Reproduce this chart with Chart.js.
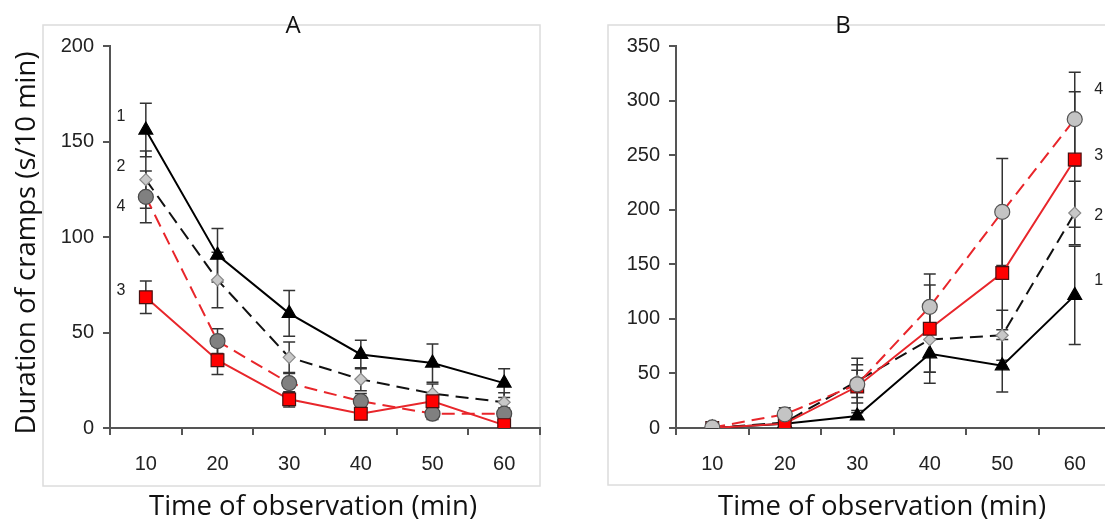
<!DOCTYPE html>
<html>
<head>
<meta charset="utf-8">
<title>Duration of cramps</title>
<script src="https://cdn.jsdelivr.net/npm/chart.js@4.4.1/dist/chart.umd.min.js"></script>
<style>
  html, body { margin: 0; padding: 0; background: #fff; overflow: hidden; }
  body { width: 1105px; height: 527px; position: relative; }
  .panel { position: absolute; top: 0; height: 527px; }
  #panelA { left: 0; width: 552px; }
  #panelB { left: 560px; width: 600px; }
</style>
</head>
<body>
<div class="panel" id="panelA"><canvas id="chartA"></canvas></div>
<div class="panel" id="panelB"><canvas id="chartB"></canvas></div>
<script>
// time of observation (min)
const categories = ["10", "20", "30", "40", "50", "60"];

// panel A: 1 = triangles, 2 = diamonds, 3 = squares, 4 = circles
const a1 = [156, 90.5, 60, 38.5, 34, 23.5];
const a1Err = [14, 14, 12, 7.5, 10, 7.5];
const a2 = [130, 77.5, 37, 25.5, 18, 13.5];
const a2Err = [15, 14.5, 8, 6, 5, 5];
const a3 = [68.5, 35.5, 15, 7.5, 14, 1.5];
const a3Err = [8.5, 7.5, 4, 3, 3, 2];
const a4 = [121, 45.5, 23.5, 14, 7.5, 7.5];
const a4Err = [13.5, 6.5, 5, 4, 3, 3];
const yTicksA = [0, 50, 100, 150, 200];

// panel B
const b1 = [0, 4, 11, 68, 57, 121.5];
const b1Err = [0, 2, 3, 27, 24, 45];
const b2 = [0, 5, 43, 81, 85, 197];
const b2Err = [0, 3, 15, 30, 23, 29];
const b3 = [0, 4, 38, 91, 142, 246];
const b3Err = [0, 3, 15, 40, 52, 62];
const b4 = [0.5, 12.5, 40, 111, 198, 283];
const b4Err = [1, 6, 24, 30, 49, 43];
const yTicksB = [0, 50, 100, 150, 200, 250, 300, 350];

// series number tags: [text, y value]
const tagsA = [["1", 163], ["2", 137], ["4", 116], ["3", 72]];
const tagsB = [["4", 310], ["3", 250], ["2", 195], ["1", 135]];

const TITLE_FONT = "'Open Sans', Lato, sans-serif";
const TICK_FONT = "'Liberation Sans', Arial, sans-serif";

const panelDecor = {
  id: "panelDecor",
  beforeDraw(chart, args, opts) {
    const ctx = chart.ctx;
    ctx.save();
    ctx.strokeStyle = "#dcdcdc";
    ctx.lineWidth = 1.5;
    ctx.strokeRect(opts.frame[0], opts.frame[1], opts.frame[2], opts.frame[3]);
    ctx.fillStyle = "#111";
    ctx.textAlign = "center";
    ctx.textBaseline = "middle";
    ctx.font = "24px " + TITLE_FONT;
    ctx.fillText(opts.title, opts.titleX, 26);
    ctx.font = "27.5px " + TITLE_FONT;
    ctx.fillText("Time of observation (min)", opts.xTitleX, 507);
    if (opts.yTitle) {
      ctx.translate(27, 243);
      ctx.rotate(-Math.PI / 2);
      ctx.fillText(opts.yTitle, 0, 0);
    }
    ctx.restore();
  },
  beforeDatasetsDraw(chart) {
    const ctx = chart.ctx;
    const y = chart.scales.y;
    ctx.save();
    ctx.strokeStyle = "#333";
    ctx.lineWidth = 1.5;
    chart.data.datasets.forEach((ds, i) => {
      const meta = chart.getDatasetMeta(i);
      ds.errors.forEach((e, j) => {
        if (!e) return;
        const px = meta.data[j].x;
        const top = y.getPixelForValue(ds.data[j] + e);
        const bot = y.getPixelForValue(Math.max(0, ds.data[j] - e));
        ctx.beginPath();
        ctx.moveTo(px, top); ctx.lineTo(px, bot);
        ctx.moveTo(px - 6, top); ctx.lineTo(px + 6, top);
        ctx.moveTo(px - 6, bot); ctx.lineTo(px + 6, bot);
        ctx.stroke();
      });
    });
    ctx.restore();
  },
  afterDatasetsDraw(chart, args, opts) {
    const ctx = chart.ctx;
    const x = chart.scales.x, y = chart.scales.y;
    ctx.save();
    ctx.fillStyle = "#222";
    ctx.font = "16px " + TICK_FONT;
    ctx.textAlign = "center";
    ctx.textBaseline = "middle";
    opts.tags.forEach(([t, v]) => {
      ctx.fillText(t, x.getPixelForValue(opts.tagIndex) + opts.tagDx, y.getPixelForValue(v));
    });
    ctx.restore();
  }
};

function series(label, data, errors, style) {
  return Object.assign({label: label, data: data, errors: errors, borderWidth: 2, pointBorderWidth: 1.2, tension: 0}, style);
}

function makeChart(canvasId, sets, yTicks, yMax, padding, decor) {
  return new Chart(document.getElementById(canvasId), {
    type: "line",
    data: {labels: categories, datasets: sets},
    options: {
      responsive: true,
      maintainAspectRatio: false,
      animation: false,
      layout: {padding: padding},
      plugins: {legend: {display: false}, tooltip: {enabled: false}, panelDecor: decor},
      scales: {
        x: {
          offset: true,
          grid: {offset: true, drawOnChartArea: false, tickLength: 7, color: "#555", lineWidth: 2},
          border: {color: "#555", width: 2},
          ticks: {color: "#222", padding: 17, font: {family: TICK_FONT, size: 20}},
          afterFit: (s) => { s.height = 60; }
        },
        y: {
          min: 0,
          max: yMax,
          grid: {drawOnChartArea: false, tickLength: 7, color: "#555", lineWidth: 2},
          border: {color: "#555", width: 2},
          ticks: {color: "#222", padding: 9, font: {family: TICK_FONT, size: 20}},
          afterBuildTicks: (s) => { s.ticks = yTicks.map(v => ({value: v})); },
          afterFit: (s) => { s.width = 60; }
        }
      }
    },
    plugins: [panelDecor]
  });
}

document.addEventListener("DOMContentLoaded", function () {
  const tri = {borderColor: "#000", pointStyle: "triangle", pointRadius: 8, pointBackgroundColor: "#000", pointBorderColor: "#000", order: 4};
  const dia = {borderColor: "#111", borderDash: [13, 7], pointStyle: "rectRot", pointRadius: 6, pointBackgroundColor: "#c8c8c8", pointBorderColor: "#8a8a8a", order: 3};
  const sq = {borderColor: "#e8262b", pointStyle: "rect", pointRadius: 9, pointBackgroundColor: "#ff0000", pointBorderColor: "#4a1010", order: 1};
  const circ = {borderColor: "#e8262b", borderDash: [13, 7], pointStyle: "circle", pointRadius: 7.5, pointBorderColor: "#4a4a4a", order: 2};

  makeChart("chartA", [
    series("1", a1, a1Err, tri),
    series("2", a2, a2Err, dia),
    series("3", a3, a3Err, sq),
    series("4", a4, a4Err, Object.assign({}, circ, {pointBackgroundColor: "#808080"}))
  ], yTicksA, 200, {left: 50, right: 12, top: 46, bottom: 39},
  {frame: [43, 25, 497, 461], title: "A", titleX: 293, xTitleX: 313, yTitle: "Duration of cramps (s/10 min)", tags: tagsA, tagIndex: 0, tagDx: -25});

  makeChart("chartB", [
    series("1", b1, b1Err, tri),
    series("2", b2, b2Err, dia),
    series("3", b3, b3Err, sq),
    series("4", b4, b4Err, Object.assign({}, circ, {pointBackgroundColor: "#c4c4c4", pointBorderColor: "#555", order: 0}))
  ], yTicksB, 350, {left: 56, right: 49, top: 46, bottom: 39},
  {frame: [48, 25, 503, 460], title: "B", titleX: 283, xTitleX: 322, yTitle: "", tags: tagsB, tagIndex: 5, tagDx: 24});
});
</script>
</body>
</html>
